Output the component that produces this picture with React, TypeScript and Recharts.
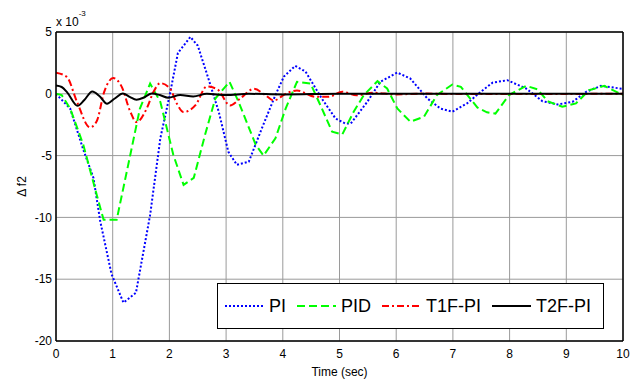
import { LineChart, Line, XAxis, YAxis, CartesianGrid, Legend, Label } from "recharts";

// values are in units of 1e-3
const xTicks = [0, 1, 2, 3, 4, 5, 6, 7, 8, 9, 10];
const yTicks = [-20, -15, -10, -5, 0, 5];

const piTime = [0, 0.25, 0.48, 0.66, 0.78, 0.98, 1.19, 1.41, 1.66, 1.84, 2.01, 2.15, 2.37, 2.5, 2.69, 2.87, 3.04, 3.19, 3.4, 3.63, 3.87, 4.02, 4.22, 4.4, 4.69, 4.93, 5.1, 5.2, 5.49, 5.72, 6.02, 6.25, 6.55, 6.78, 6.99, 7.25, 7.49, 7.7, 7.96, 8.29, 8.58, 8.85, 9.11, 9.35, 9.61, 10];
const piValues = [0, -1.2, -4.5, -6.8, -10.3, -14.6, -16.9, -16.1, -9.8, -3.6, 0, 3.3, 4.6, 3.9, 1.2, -1.45, -4.7, -5.75, -5.5, -2.8, -0.1, 1.4, 2.26, 1.8, -0.4, -2.0, -2.4, -2.4, -0.65, 0.97, 1.72, 1.23, -0.38, -1.19, -1.45, -0.78, 0.16, 0.9, 1.1, 0.43, -0.6, -0.86, -0.65, 0.16, 0.64, 0.4];

const pidTime = [0, 0.1, 0.25, 0.48, 0.72, 0.84, 1.07, 1.31, 1.48, 1.66, 1.84, 2.07, 2.25, 2.43, 2.63, 2.81, 3.06, 3.22, 3.52, 3.66, 3.87, 4.05, 4.25, 4.49, 4.69, 4.87, 5.05, 5.25, 5.43, 5.67, 5.84, 6.02, 6.25, 6.49, 6.72, 6.99, 7.14, 7.43, 7.6, 7.75, 7.99, 8.29, 8.49, 8.67, 8.93, 9.17, 9.4, 9.67, 10];
const pidValues = [0, -0.1, -1.2, -4.1, -8.2, -10.2, -10.2, -4.95, -1.2, 0.83, -0.65, -4.95, -7.37, -6.8, -3.3, -0.38, 0.97, -0.65, -4.1, -5.0, -3.6, -1.2, 0.97, 0.83, -1.2, -3.07, -3.28, -1.45, -0.1, 1.02, 0.43, -1.19, -2.26, -1.85, -0.1, 0.75, 0.56, -1.1, -1.5, -1.6, -0.1, 0.64, 0.37, -0.6, -1.05, -0.78, 0.29, 0.64, -0.1];

const t1fTime = [0, 0.19, 0.37, 0.6, 0.72, 0.85, 1.01, 1.16, 1.31, 1.42, 1.6, 1.72, 1.84, 2.01, 2.13, 2.25, 2.46, 2.66, 2.85, 3.07, 3.25, 3.49, 3.69, 3.84, 4.05, 4.25, 4.58, 4.81, 5.05, 5.3, 5.6, 6.0, 6.5, 7.0, 10];
const t1fValues = [1.7, 1.37, -0.65, -2.72, -2.2, 0.16, 1.27, 0.56, -1.45, -2.29, -1.19, 0.16, 0.86, 0.43, -0.78, -1.48, -0.92, 0.59, 0.35, -0.94, -0.38, 0.4, -0.1, -0.54, 0, 0.27, -0.24, -0.24, 0.16, -0.12, 0.08, -0.05, 0.02, -0.02, 0];

const t2fTime = [0, 0.1, 0.2, 0.38, 0.5, 0.64, 0.77, 0.9, 1.03, 1.18, 1.3, 1.42, 1.55, 1.69, 1.83, 1.98, 2.19, 2.42, 2.66, 3.0, 3.4, 4.0, 5.0, 10];
const t2fValues = [0.67, 0.55, 0.1, -0.97, -0.5, 0.19, -0.2, -0.8, -0.4, 0.03, -0.25, -0.48, -0.3, 0.03, -0.1, -0.32, -0.1, -0.22, 0, -0.1, 0, -0.05, 0, 0];

const toPoints = (t: number[], v: number[]) => t.map((x, i) => ({ t: x, v: v[i] }));

const series = [
  { name: "PI", data: toPoints(piTime, piValues), color: "#0000ff", dash: "2 2", type: "linear" },
  { name: "PID", data: toPoints(pidTime, pidValues), color: "#00ff00", dash: "8 4", type: "linear" },
  { name: "T1F-PI", data: toPoints(t1fTime, t1fValues), color: "#ff0000", dash: "7 3 2 3", type: "monotone" },
  { name: "T2F-PI", data: toPoints(t2fTime, t2fValues), color: "#000000", dash: undefined, type: "monotone" },
];

const font = "'Liberation Sans', Arial, sans-serif";

const renderLegend = () => (
  <div
    style={{
      display: "flex",
      alignItems: "center",
      height: "100%",
      boxSizing: "border-box",
      border: "1.5px solid #000",
      background: "#fff",
      paddingLeft: 7,
      fontFamily: font,
    }}
  >
    {series.map((s) => (
      <div key={s.name} style={{ display: "flex", alignItems: "center", marginRight: 11 }}>
        <svg width={39} height={10}>
          <line x1={0} y1={5} x2={39} y2={5} stroke={s.color} strokeWidth={2} strokeDasharray={s.dash} />
        </svg>
        <span style={{ marginLeft: 5, fontSize: 18, lineHeight: "20px", color: "#000" }}>{s.name}</span>
      </div>
    ))}
  </div>
);

const yLabel = (props: any) => {
  const vb = props.viewBox || { x: 10, y: 32, width: 46, height: 309 };
  const cx = vb.x + 12;
  const cy = vb.y + vb.height / 2;
  return (
    <g>
      <text x={cx} y={cy} transform={`rotate(-90 ${cx} ${cy})`} textAnchor="middle" dominantBaseline="central" fontSize={12} fill="#000">
        Δ f2
      </text>
      <text x={vb.x + vb.width} y={vb.y - 6} fontSize={12} fill="#000">
        x 10
        <tspan dy={-10} fontSize={8}>-3</tspan>
      </text>
    </g>
  );
};

export default function App() {
  return (
    <div style={{ position: "absolute", left: 0, top: 0, width: 637, height: 381, background: "#fff", fontFamily: font }}>
      <LineChart width={637} height={381} margin={{ top: 32, right: 14, bottom: 20, left: 10 }}>
        <CartesianGrid stroke="#9a9a9a" strokeWidth={1} />

        {/* main axes with labels */}
        <XAxis
          dataKey="t"
          type="number"
          domain={[0, 10]}
          ticks={xTicks}
          interval={0}
          allowDataOverflow
          height={20}
          tickLine={false}
          axisLine={{ stroke: "#000", strokeWidth: 1.5 }}
          tick={{ fill: "#000", fontSize: 12 }}
        >
          <Label value="Time (sec)" position="bottom" offset={6} fontSize={12} fill="#000" />
        </XAxis>
        <YAxis
          type="number"
          domain={[-20, 5]}
          ticks={yTicks}
          interval={0}
          allowDataOverflow
          width={46}
          tickLine={false}
          tickSize={2}
          tickMargin={2}
          axisLine={{ stroke: "#000", strokeWidth: 1.5 }}
          tick={{ fill: "#000", fontSize: 12 }}
        >
          <Label content={yLabel} />
        </YAxis>

        {/* box and inward ticks */}
        <XAxis xAxisId="top" orientation="top" mirror type="number" domain={[0, 10]} ticks={xTicks} interval={0} allowDataOverflow tick={false} tickSize={5} axisLine={{ stroke: "#000", strokeWidth: 1.5 }} tickLine={{ stroke: "#000" }} />
        <XAxis xAxisId="bm" orientation="bottom" mirror type="number" domain={[0, 10]} ticks={xTicks} interval={0} allowDataOverflow tick={false} tickSize={5} axisLine={false} tickLine={{ stroke: "#000" }} />
        <YAxis yAxisId="right" orientation="right" mirror type="number" domain={[-20, 5]} ticks={yTicks} interval={0} allowDataOverflow tick={false} tickSize={5} axisLine={{ stroke: "#000", strokeWidth: 1.5 }} tickLine={{ stroke: "#000" }} />
        <YAxis yAxisId="lm" orientation="left" mirror type="number" domain={[-20, 5]} ticks={yTicks} interval={0} allowDataOverflow tick={false} tickSize={5} axisLine={false} tickLine={{ stroke: "#000" }} />

        {series.map((s) => (
          <Line
            key={s.name}
            name={s.name}
            data={s.data}
            dataKey="v"
            type={s.type as any}
            stroke={s.color}
            strokeWidth={2}
            strokeDasharray={s.dash}
            dot={false}
            activeDot={false}
            isAnimationActive={false}
          />
        ))}

        <Legend
          layout="horizontal"
          verticalAlign="middle"
          align="center"
          content={renderLegend}
          wrapperStyle={{ left: 217, top: 283, width: 387, height: 46 }}
        />
      </LineChart>
    </div>
  );
}
